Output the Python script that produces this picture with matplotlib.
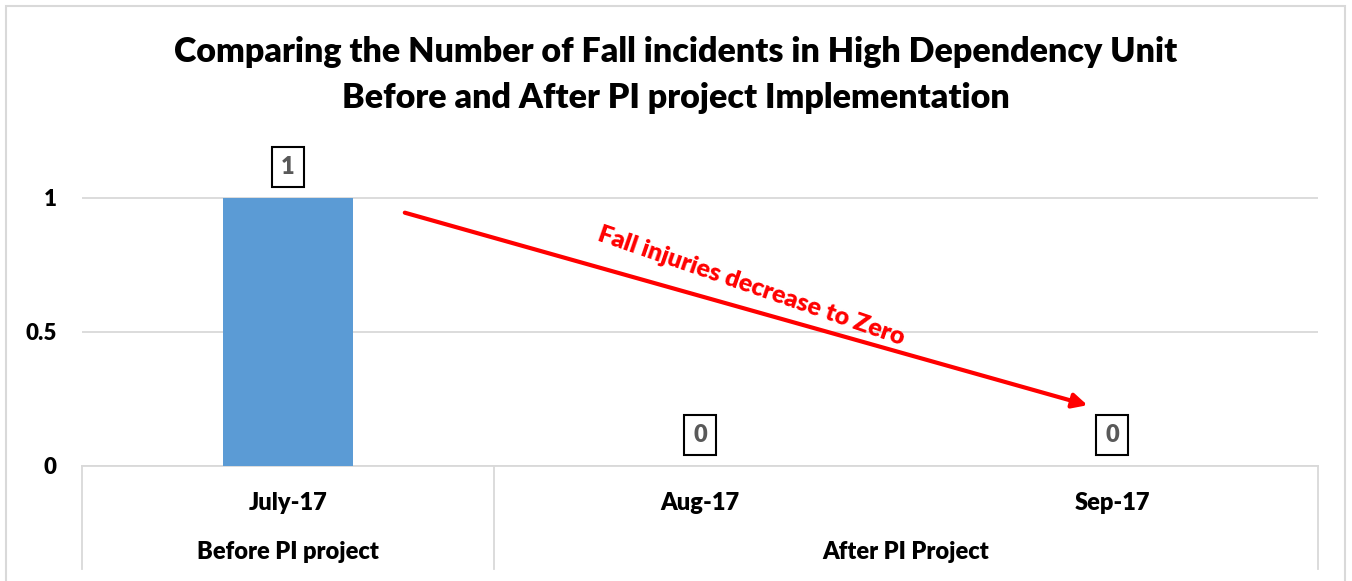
import matplotlib
matplotlib.use('Agg')
import matplotlib.pyplot as plt
import matplotlib.transforms as mtransforms
from matplotlib.patches import Rectangle

plt.rcParams['font.family'] = ['Lato', 'DejaVu Sans']
plt.rcParams['font.weight'] = 'bold'

# data
months = ['July-17', 'Aug-17', 'Sep-17']
falls = [1, 0, 0]
groups = ['Before PI project', 'After PI Project']
group_span = [(0, 0), (1, 2)]   # first / last month index of each group
yticks = [0, 0.5, 1]
title = ('Comparing the Number of Fall incidents in High Dependency Unit\n'
         'Before and After PI project Implementation')
note = 'Fall injuries decrease to Zero'

W, H = 1352, 581
fig = plt.figure(figsize=(W / 100, H / 100), dpi=100)

# outer light grey frame
fig.patches.append(Rectangle((6 / W, -0.05), (1345 - 6) / W, 1 + 0.05 - 6 / H,
                             transform=fig.transFigure, fill=False,
                             edgecolor='#D9D9D9', lw=1.5))

ax = fig.add_axes([82 / W, 115 / H, 1236 / W, 321.6 / H])
x = list(range(len(months)))
ax.bar(x, falls, width=0.316, color='#5B9BD5', zorder=3)

ax.set_xlim(-0.5, len(months) - 0.5)
ax.set_ylim(0, 1.2)
ax.set_yticks(yticks)
ax.set_yticklabels(['0', '0.5', '1'], fontsize=16, fontweight='heavy')
ax.yaxis.grid(True, color='#D9D9D9', lw=1.3, zorder=0)
ax.tick_params(axis='y', length=0, pad=18)
ax.set_xticks(x)
ax.set_xticklabels(months, fontsize=17, fontweight='heavy')
ax.tick_params(axis='x', length=0, pad=19)
for s in ['top', 'right', 'left']:
    ax.spines[s].set_visible(False)
ax.spines['bottom'].set_color('#D9D9D9')
ax.spines['bottom'].set_linewidth(1.3)

# category separators below the axis
trans = mtransforms.blended_transform_factory(ax.transData, ax.transAxes)
sep_bottom = -(569 - 466) / 321.6
for i, (a, b) in enumerate(group_span):
    for xx in ([a - 0.5, b + 0.5] if i == 0 else [b + 0.5]):
        ax.plot([xx, xx], [0, sep_bottom], color='#D9D9D9', lw=1.3,
                transform=trans, clip_on=False)
    ax.text((a + b) / 2, -(552 - 466) / 321.6, groups[i], transform=trans,
            ha='center', va='center', fontsize=17, fontweight='heavy')

# data labels in boxes
for xi, v in zip(x, falls):
    ax.annotate(str(v), (xi, v), xytext=(0, 31), textcoords='offset pixels',
                ha='center', va='center', fontsize=17, fontweight='heavy',
                color='#595959',
                bbox=dict(boxstyle='square,pad=0.38', fc='white', ec='black', lw=1.5))

# red arrow with note
ax.annotate('', xy=(1.947, 0.224), xytext=(0.277, 0.948),
            arrowprops=dict(arrowstyle='-|>', color='red', lw=3, mutation_scale=22))
ax.text(1.125, 0.672, note, color='red', fontsize=18, fontweight='heavy',
        rotation=-19, ha='center', va='center', rotation_mode='anchor')

fig.text(676 / W, 1 - 75 / H, title, ha='center', va='center', fontsize=24.5,
         fontweight='heavy', linespacing=1.5)

fig.savefig('out.png', dpi=100)
